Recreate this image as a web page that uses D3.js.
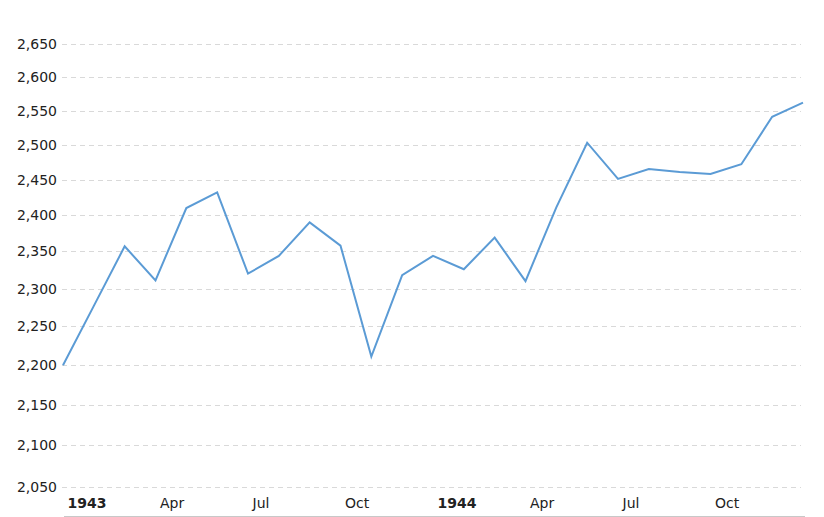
<!DOCTYPE html>
<html><head><meta charset="utf-8">
<script src="https://cdn.jsdelivr.net/npm/d3@7/dist/d3.min.js"></script>
<style>
body{margin:0;background:#fff;}
text{font-family:Verdana,"DejaVu Sans",sans-serif;}
</style></head>
<body><svg id="c" width="824" height="517"></svg>
<script>
const months = ["1943-01","1943-02","1943-03","1943-04","1943-05","1943-06","1943-07","1943-08","1943-09","1943-10","1943-11","1943-12",
"1944-01","1944-02","1944-03","1944-04","1944-05","1944-06","1944-07","1944-08","1944-09","1944-10","1944-11","1944-12","1945-01"];
const values = [2200,2277,2357,2311,2410,2432,2320,2344,2390,2358,2211,2318,
2344,2326,2369,2310,2411,2503,2451,2465,2461,2458,2472,2541,2562];
const yTicks = [2050,2100,2150,2200,2250,2300,2350,2400,2450,2500,2550,2600,2650];
const xTickMonths = ["1943-01","1943-04","1943-07","1943-10","1944-01","1944-04","1944-07","1944-10"];
const xTickLabels = ["1943","Apr","Jul","Oct","1944","Apr","Jul","Oct"];

const svg = d3.select("#c");
const x = d3.scalePoint().domain(months).range([63,803]);
const y = d3.scaleLog().domain([2050,2650]).range([487,44.3]);

// grid
svg.append("g").selectAll("line").data(yTicks).join("line")
  .attr("x1",62).attr("x2",801)
  .attr("y1",d=>Math.round(y(d))+0.5).attr("y2",d=>Math.round(y(d))+0.5)
  .attr("stroke","#d9d9d9").attr("stroke-width",1).attr("stroke-dasharray","5,4");

// y labels
const yAxis = d3.axisLeft(y).tickValues(yTicks).tickFormat(d3.format(",")).tickSize(0).tickPadding(0);
const gy = svg.append("g").attr("transform","translate(57,0)").call(yAxis);
gy.select(".domain").remove();
gy.selectAll("text").attr("font-size",14).attr("fill","#222").attr("font-family","Verdana,'DejaVu Sans',sans-serif");

// x axis
const xAxis = d3.axisBottom(x).tickValues(xTickMonths)
  .tickFormat(d=>xTickLabels[xTickMonths.indexOf(d)]).tickSize(0).tickPadding(0);
const gx = svg.append("g").attr("transform","translate(0,498)").call(xAxis);
gx.select(".domain").remove();
gx.selectAll("text").attr("text-anchor","start").attr("dx",4).attr("dy","0.71em")
  .attr("font-size",14).attr("fill","#222")
  .attr("font-family","Verdana,'DejaVu Sans',sans-serif")
  .attr("font-weight",(d,i)=>/^\d{4}$/.test(xTickLabels[i])?"bold":"normal");
svg.append("line").attr("x1",64).attr("x2",805).attr("y1",516.5).attr("y2",516.5)
  .attr("stroke","#c8c8c8").attr("stroke-width",1);

// line
const line = d3.line().x((d,i)=>x(months[i])).y(d=>y(d));
svg.append("path").datum(values).attr("d",line)
  .attr("fill","none").attr("stroke","#5b9bd5").attr("stroke-width",2)
  .attr("stroke-linejoin","miter");
</script></body></html>
